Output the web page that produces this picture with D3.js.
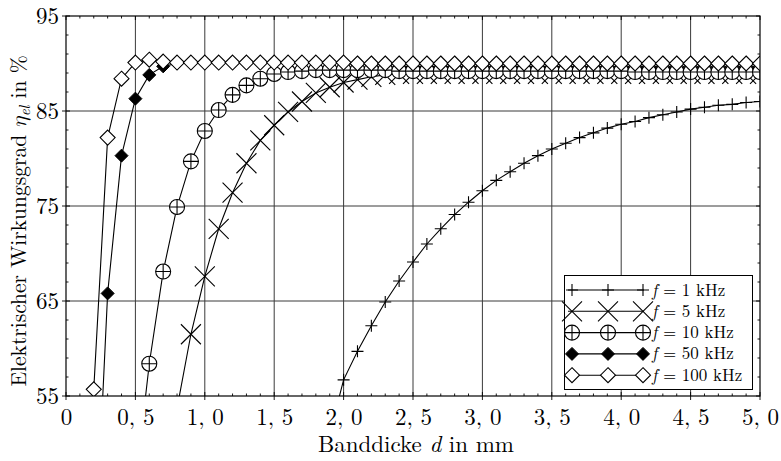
<!DOCTYPE html>
<html><head><meta charset="utf-8">
<script src="https://cdn.jsdelivr.net/npm/d3@7"></script>
<style>body{margin:0;background:#fff}svg{display:block}</style>
</head><body><svg id="c" width="781" height="461"></svg>
<script>
// ---- data ----
const thickness = [0.1,0.2,0.3,0.4,0.5,0.6,0.7,0.8,0.9,1.0,1.1,1.2,1.3,1.4,1.5,1.6,1.7,1.8,1.9,2.0,2.1,2.2,2.3,2.4,2.5,2.6,2.7,2.8,2.9,3.0,3.1,3.2,3.3,3.4,3.5,3.6,3.7,3.8,3.9,4.0,4.1,4.2,4.3,4.4,4.5,4.6,4.7,4.8,4.9,5.0];
const eta_1kHz = [null,null,null,null,null,null,null,null,null,null,null,null,null,null,null,null,null,null,51.0,56.7,59.7,62.4,64.9,67.1,69.1,71.0,72.6,74.1,75.4,76.6,77.7,78.6,79.5,80.3,81.0,81.6,82.2,82.7,83.2,83.6,83.9,84.3,84.6,84.9,85.2,85.4,85.6,85.7,85.9,86.0];
const eta_5kHz = [null,null,null,null,null,null,null,53.7,61.5,67.6,72.6,76.4,79.5,81.9,83.5,84.9,86.0,86.9,87.5,88.0,88.3,88.6,88.8,88.9,88.9,88.9,88.9,88.9,88.9,88.9,88.9,88.9,88.9,88.9,88.9,88.9,88.9,88.9,88.9,88.9,88.9,88.9,88.9,88.9,88.9,88.9,88.9,88.9,88.9,88.9];
const eta_10kHz = [null,null,null,null,45.6,58.4,68.1,74.9,79.7,82.9,85.1,86.7,87.7,88.4,88.9,89.1,89.2,89.3,89.3,89.3,89.3,89.3,89.3,89.2,89.2,89.2,89.2,89.2,89.2,89.2,89.2,89.2,89.2,89.2,89.2,89.2,89.2,89.2,89.2,89.2,89.1,89.1,89.1,89.1,89.1,89.1,89.1,89.1,89.1,89.1];
const eta_50kHz = [null,35.0,65.8,80.3,86.3,88.8,89.7,90.0,90.1,90.1,90.1,90.1,90.1,90.1,90.1,90.1,90.1,90.1,90.1,90.1,90.0,90.0,90.0,90.0,90.0,90.0,90.0,90.0,90.0,90.0,90.0,90.0,90.0,90.0,90.0,90.0,90.0,90.0,90.0,90.0,90.0,90.0,90.0,90.0,90.0,90.0,90.0,90.0,90.0,90.0];
const eta_100kHz = [null,55.7,82.2,88.4,90.1,90.4,90.2,90.1,90.1,90.1,90.1,90.1,90.1,90.1,90.1,90.1,90.1,90.1,90.1,90.1,90.0,90.0,90.0,90.0,90.0,90.0,90.0,90.0,90.0,90.0,90.0,90.0,90.0,90.0,90.0,90.0,90.0,90.0,90.0,90.0,90.0,90.0,90.0,90.0,90.0,90.0,90.0,90.0,90.0,90.0];
const seriesLabels = ["1 kHz","5 kHz","10 kHz","50 kHz","100 kHz"];
const seriesMarkers = ["plus","cross","oplus","diamondFilled","diamond"];
const xTicks = [0,0.5,1.0,1.5,2.0,2.5,3.0,3.5,4.0,4.5,5.0];
const xTickLabels = ["0","0, 5","1, 0","1, 5","2, 0","2, 5","3, 0","3, 5","4, 0","4, 5","5, 0"];
const yTicks = [55,65,75,85,95];

const allSeries = [eta_1kHz, eta_5kHz, eta_10kHz, eta_50kHz, eta_100kHz];
const FONT = "'Latin Modern Roman','Liberation Serif',serif";
const MATHFONT = "'Latin Modern Math','Latin Modern Roman','DejaVu Serif',serif";

// ---- layout ----
const L = 66, R = 760, T = 16, B = 396;
const x = d3.scaleLinear().domain([0,5]).range([L,R]);
const y = d3.scaleLinear().domain([55,95]).range([B,T]);
const svg = d3.select("#c");

svg.append("defs").append("clipPath").attr("id","clip")
  .append("rect").attr("x",L).attr("y",T).attr("width",R-L).attr("height",B-T);

// grid
const grid = svg.append("g").attr("stroke","#3a3a3a").attr("stroke-width",1);
xTicks.slice(1,-1).forEach(t=>grid.append("line").attr("x1",x(t)).attr("x2",x(t)).attr("y1",T).attr("y2",B));
yTicks.slice(1,-1).forEach(t=>grid.append("line").attr("y1",y(t)).attr("y2",y(t)).attr("x1",L).attr("x2",R));

// axes via d3
const xAxis = svg.append("g").attr("transform",`translate(0,${B})`)
  .call(d3.axisBottom(x).tickValues(xTicks).tickFormat((d,i)=>xTickLabels[i]).tickSize(0).tickPadding(8));
const yAxis = svg.append("g").attr("transform",`translate(${L},0)`)
  .call(d3.axisLeft(y).tickValues(yTicks).tickFormat(d3.format("d")).tickSize(0).tickPadding(7));
[xAxis,yAxis].forEach(a=>{a.attr("font-family",null).attr("font-size",null);a.select(".domain").remove();
  a.selectAll("text").attr("fill","#000").style("font-family",FONT).style("font-size","23px");});
xAxis.selectAll("text").attr("dy","0.9em");
yAxis.selectAll("text").attr("dy","0.33em");

// ticks major and minor
const tk = svg.append("g").attr("stroke","#000").attr("stroke-width",0.9);
xTicks.forEach(t=>{tk.append("line").attr("x1",x(t)).attr("x2",x(t)).attr("y1",B-4).attr("y2",B+4);
  tk.append("line").attr("x1",x(t)).attr("x2",x(t)).attr("y1",T).attr("y2",T+4);});
yTicks.forEach(t=>{tk.append("line").attr("y1",y(t)).attr("y2",y(t)).attr("x1",L-4).attr("x2",L+4);
  tk.append("line").attr("y1",y(t)).attr("y2",y(t)).attr("x1",R-4).attr("x2",R);});
d3.range(0,5.0001,0.1).forEach(t=>{ if(Math.abs(t*2-Math.round(t*2))>1e-6){
  tk.append("line").attr("x1",x(t)).attr("x2",x(t)).attr("y1",B-2.5).attr("y2",B);
  tk.append("line").attr("x1",x(t)).attr("x2",x(t)).attr("y1",T).attr("y2",T+2.5);}});
d3.range(55,95.001,2).forEach(t=>{ if((t-55)%10!==0){
  tk.append("line").attr("y1",y(t)).attr("y2",y(t)).attr("x1",L).attr("x2",L+2.5);
  tk.append("line").attr("y1",y(t)).attr("y2",y(t)).attr("x1",R-2.5).attr("x2",R);}});

// markers
function drawMarker(g, type, cx, cy){
  if(type==="plus"){
    g.append("path").attr("d",`M${cx-6},${cy}H${cx+6}M${cx},${cy-6}V${cy+6}`).attr("stroke","#000").attr("stroke-width",1.1).attr("fill","none");
  } else if(type==="cross"){
    const s=10;
    g.append("path").attr("d",`M${cx-s},${cy-s}L${cx+s},${cy+s}M${cx-s},${cy+s}L${cx+s},${cy-s}`).attr("stroke","#000").attr("stroke-width",1.1).attr("fill","none");
  } else if(type==="oplus"){
    const r=7.5;
    g.append("circle").attr("cx",cx).attr("cy",cy).attr("r",r).attr("fill","#fff").attr("stroke","#000").attr("stroke-width",1.1);
    g.append("path").attr("d",`M${cx-r},${cy}H${cx+r}M${cx},${cy-r}V${cy+r}`).attr("stroke","#000").attr("stroke-width",1.1);
  } else if(type==="diamondFilled"){
    const s=6.5;
    g.append("path").attr("d",`M${cx},${cy-s}L${cx+s},${cy}L${cx},${cy+s}L${cx-s},${cy}Z`).attr("fill","#000").attr("stroke","#000").attr("stroke-width",1);
  } else {
    const s=7.5;
    g.append("path").attr("d",`M${cx},${cy-s}L${cx+s},${cy}L${cx},${cy+s}L${cx-s},${cy}Z`).attr("fill","#fff").attr("stroke","#000").attr("stroke-width",1.1);
  }
}

const plot = svg.append("g").attr("clip-path","url(#clip)");
const line = d3.line().defined(d=>d[1]!==null).x(d=>x(d[0])).y(d=>y(d[1]));
allSeries.forEach((vals,i)=>{
  const pts = thickness.map((t,j)=>[t,vals[j]]).filter(d=>d[1]!==null);
  plot.append("path").datum(pts).attr("d",line).attr("fill","none").attr("stroke","#000").attr("stroke-width",1.1);
  const mg = plot.append("g");
  pts.forEach(p=>drawMarker(mg, seriesMarkers[i], x(p[0]), y(p[1])));
});

// frame
svg.append("rect").attr("x",L).attr("y",T).attr("width",R-L).attr("height",B-T).attr("fill","none").attr("stroke","#000").attr("stroke-width",1.2);

// legend
const lg = svg.append("g");
lg.append("rect").attr("x",564.5).attr("y",275.5).attr("width",188).attr("height",114).attr("fill","#fff").attr("stroke","#000").attr("stroke-width",1);
seriesLabels.forEach((lab,i)=>{
  const cy = 290 + i*21.3;
  lg.append("line").attr("x1",568).attr("x2",644).attr("y1",cy).attr("y2",cy).attr("stroke","#000").attr("stroke-width",1.1);
  [572,608,643].forEach(cx=>drawMarker(lg, seriesMarkers[i], cx, cy));
  const t = lg.append("text").attr("x",652).attr("y",cy+5.5).style("font-family",FONT).style("font-size","17px");
  t.append("tspan").style("font-style","italic").text("f");
  t.append("tspan").text(" = "+lab);
});

// axis titles
const xt = svg.append("text").attr("x",(L+R)/2+3).attr("y",452).attr("text-anchor","middle").style("font-family",FONT).style("font-size","23px");
xt.append("tspan").text("Banddicke ");
xt.append("tspan").style("font-style","italic").text("d");
xt.append("tspan").text(" in mm");
const yt = svg.append("text").attr("transform","translate(26,221) rotate(-90)").attr("text-anchor","middle").style("font-family",FONT).style("font-size","21.5px");
yt.append("tspan").text("Elektrischer Wirkungsgrad ");
yt.append("tspan").style("font-family",MATHFONT).style("font-style","italic").text("η");
yt.append("tspan").style("font-style","italic").style("font-size","15px").attr("dy",4).text("el");
yt.append("tspan").attr("dy",-4).text(" in %");
</script></body></html>
